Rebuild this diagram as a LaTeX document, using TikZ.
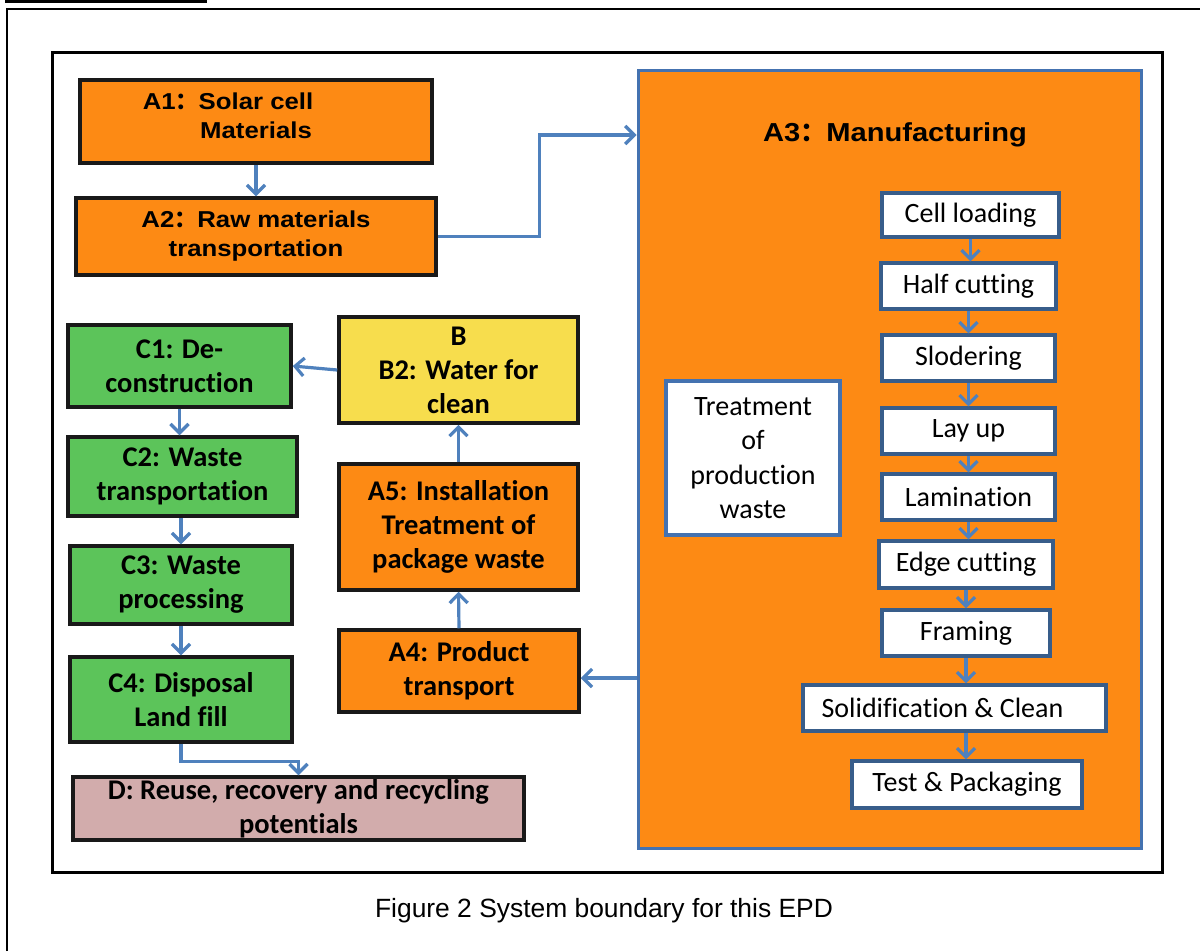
\documentclass[tikz,border=0pt]{standalone}
\usepackage{fontspec}
\setmainfont{Liberation Sans}
\newfontfamily\arialbold[FakeStretch=1.12]{Liberation Sans}
\newfontfamily\calibri[Ligatures=NoCommon]{Carlito}
\newfontfamily\cjk{Noto Sans CJK SC}
\usetikzlibrary{arrows.meta,calc}
\definecolor{orng}{HTML}{FD8A14}
\definecolor{grn}{HTML}{5CC45A}
\definecolor{ylw}{HTML}{F7DD4D}
\definecolor{pnk}{HTML}{D2ACAC}
\definecolor{arrblue}{HTML}{4F81BD}
\definecolor{a3blue}{HTML}{4472B0}
\definecolor{stepblue}{HTML}{385D8A}
\tikzset{
  box/.style={draw=black!90, line width=3.5pt, inner sep=0pt, align=center},
  arialbox/.style={box, fill=orng, font=\arialbold\bfseries\fontsize{23}{29}\selectfont},
  calbox/.style={box, font=\calibri\bfseries\fontsize{28.5}{34}\selectfont},
  stepbox/.style={draw=stepblue, line width=3.2pt, fill=white, inner sep=0pt, align=center,
    font=\calibri\fontsize{28}{34.5}\selectfont},
  arr/.style={draw=arrblue, line width=3.2pt, -{Straight Barb[length=9pt,width=18pt,line width=3.2pt]}},
}
\begin{document}
\begin{tikzpicture}[x=1pt,y=-1pt]
\useasboundingbox (0,0) rectangle (1200,951);
% page frame and cut-off heading underline
\draw[line width=2.5pt] (5,1.5) -- (207,1.5);
\draw[line width=1.8pt] (7,951) -- (7,9) -- (1200,9);
% inner frame
\draw[line width=3pt] (52,52) rectangle (1162,872);

% A1, A2
\node[arialbox, minimum width=352pt, minimum height=83pt, text depth=12pt] (A1) at (256,121.5)
  {A1{\cjk ：}Solar cell\rule{56pt}{0pt}\\Materials};
\node[arialbox, minimum width=360pt, minimum height=77pt] (A2) at (256,236.5)
  {A2{\cjk ：}Raw materials\\transportation};

% A3
\node[draw=a3blue, line width=3pt, fill=orng, minimum width=503pt, minimum height=778pt, inner sep=0pt] (A3) at (889.5,459) {};
\node[font=\arialbold\bfseries\fontsize{26}{30}\selectfont] (A3title) at (895,135) {A3{\cjk ：}Manufacturing};

\node[stepbox, minimum width=177pt, minimum height=44pt] (cell) at (970.5,215) {Cell loading};
\node[stepbox, minimum width=175pt, minimum height=46pt] (half) at (968.5,286) {Half cutting};
\node[stepbox, minimum width=173pt, minimum height=46pt] (slod) at (968.5,358) {Slodering};
\node[stepbox, minimum width=173pt, minimum height=46pt] (lay) at (968.5,431) {Lay up};
\node[stepbox, minimum width=173pt, minimum height=46pt] (lam) at (968.5,497) {Lamination};
\node[stepbox, minimum width=174pt, minimum height=47pt] (edge) at (966,564.5) {Edge cutting};
\node[stepbox, minimum width=168pt, minimum height=46pt] (frame) at (966,633) {Framing};
\node[stepbox, minimum width=303pt, minimum height=46pt] (solid) at (954.5,708) {Solidification \& Clean\rule{24pt}{0pt}};
\node[stepbox, minimum width=230pt, minimum height=47pt] (test) at (967,784.5) {Test \& Packaging};
\node[stepbox, draw=a3blue, minimum width=174pt, minimum height=154pt] (treat) at (753,458) {Treatment\\of\\production\\waste};

% left column C
\node[calbox, fill=grn, minimum width=223pt, minimum height=82pt] (C1) at (179.5,366) {C1: De-\\construction};
\node[calbox, fill=grn, minimum width=229pt, minimum height=79pt] (C2) at (182.5,476.5) {C2: Waste\\transportation};
\node[calbox, fill=grn, minimum width=222pt, minimum height=78pt] (C3) at (181,585) {C3: Waste\\processing};
\node[calbox, fill=grn, minimum width=222pt, minimum height=85pt] (C4) at (181,699.5) {C4: Disposal\\Land fill};
\node[calbox, fill=pnk, minimum width=451pt, minimum height=63pt] (D) at (298.5,808.5) {D: Reuse, recovery and recycling\\potentials};

% middle column
\node[calbox, fill=ylw, minimum width=239pt, minimum height=106pt] (B) at (458.5,370) {B\\B2: Water for\\clean};
\node[calbox, fill=orng, minimum width=239pt, minimum height=126pt] (A5) at (458.5,527) {A5: Installation\\Treatment of\\package waste};
\node[calbox, fill=orng, minimum width=240pt, minimum height=82pt] (A4) at (459,671) {A4: Product\\transport};

% caption
\node[font=\fontsize{26.4}{30}\selectfont] (cap) at (604,911) {Figure 2 System boundary for this EPD};

% connectors
\draw[arr] (A1.south) -- (A2.north);
\draw[arr] (A2.east) -- ++(102,0) |- (A3.west |- A3title.center);
\draw[arr] (cell.south) -- (cell.south |- half.north);
\draw[arr] (half.south) -- (half.south |- slod.north);
\draw[arr] (slod.south) -- (slod.south |- lay.north);
\draw[arr] (lay.south) -- (lay.south |- lam.north);
\draw[arr] (lam.south) -- (lam.south |- edge.north);
\draw[arr] (edge.south) -- (edge.south |- frame.north);
\draw[arr] (frame.south) -- (frame.south |- solid.north);
\draw[arr] (frame.south |- solid.south) -- (frame.south |- test.north);
\draw[arr] ([yshift=-7pt]A3.west |- A4.east) -- ([yshift=-7pt]A4.east);
\draw[arr] (A4.north) -- (A5.south);
\draw[arr] (A5.north) -- (B.south);
\draw[arr] (B.west) -- (C1.east);
\draw[arr] (C1.south) -- (C1.south |- C2.north);
\draw[arr] (C3.north |- C2.south) -- (C3.north);
\draw[arr] (C3.south) -- (C4.north);
\draw[arr] (C4.south) -- ++(0,18) -| (D.north);
\end{tikzpicture}
\end{document}
